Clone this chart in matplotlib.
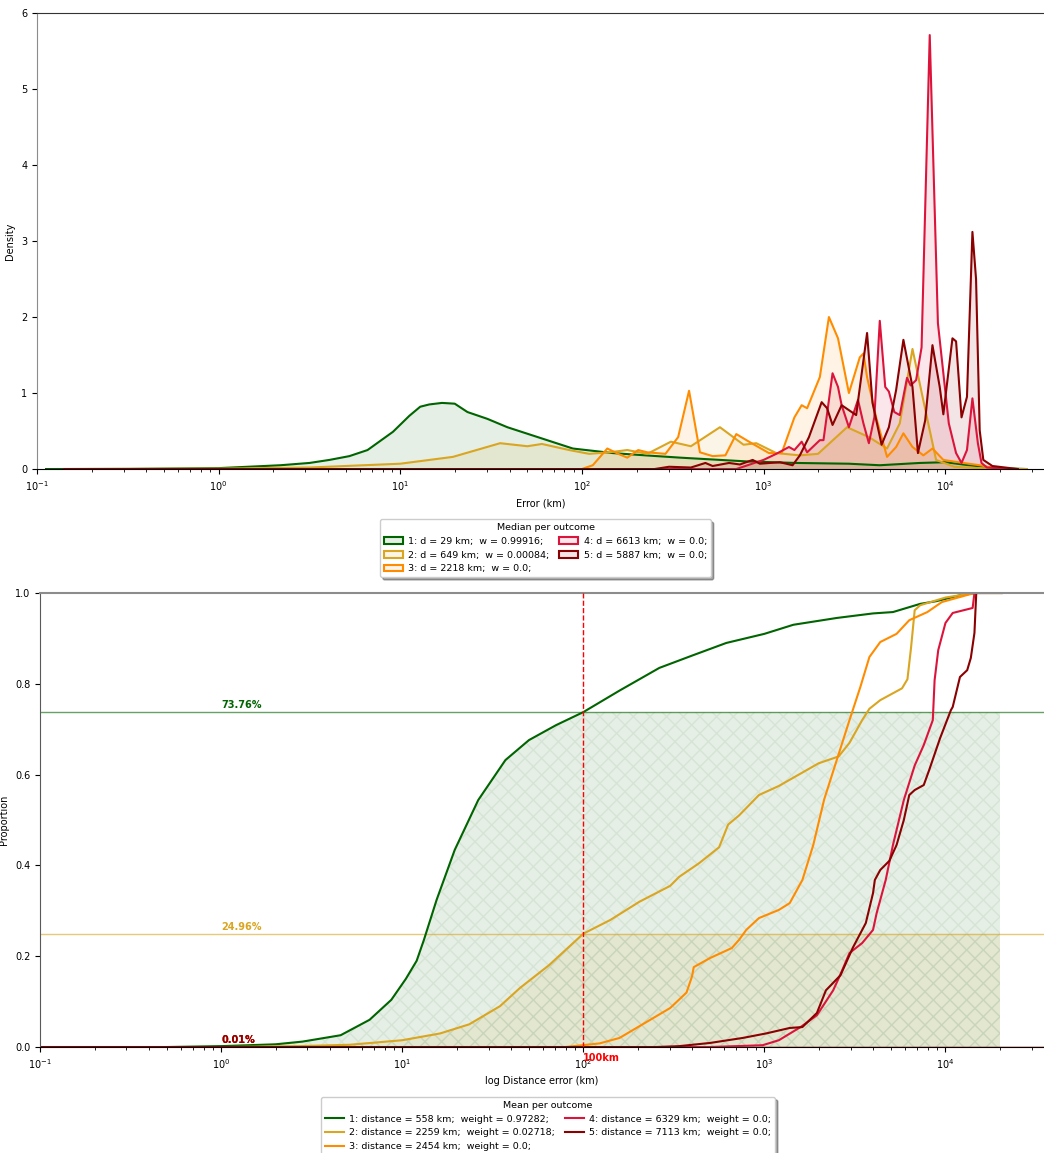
import numpy as np
import matplotlib
matplotlib.use("Agg")
import matplotlib.pyplot as plt
from matplotlib.patches import Patch
from matplotlib.lines import Line2D

# outcomes
labels = ["1", "2", "3", "4", "5"]
colors = ["darkgreen", "goldenrod", "darkorange", "crimson", "darkred"]
median_d = [29, 649, 2218, 6613, 5887]
median_w = ["0.99916", "0.00084", "0.0", "0.0", "0.0"]
mean_d = [558, 2259, 2454, 6329, 7113]
mean_w = ["0.97282", "0.02718", "0.0", "0.0", "0.0"]
pct_100km = [73.76, 24.96, 0.01, 0.01, 0.01]

# density curves (x as log10 km)
dens_logx = [
    [-0.95, -0.5, 0.0, 0.34, 0.5, 0.61, 0.72, 0.82, 0.96, 1.05, 1.11, 1.16, 1.23, 1.3, 1.37, 1.48,
     1.59, 1.68, 1.77, 1.86, 1.95, 2.17, 2.35, 2.54, 2.91, 3.18, 3.47, 3.64, 3.86, 4.0, 4.13, 4.3, 4.45],
    [-0.85, 0.0, 0.5, 1.0, 1.29, 1.42, 1.55, 1.7, 1.78, 1.93, 2.04, 2.15, 2.25, 2.36, 2.49, 2.6, 2.76,
     2.89, 2.96, 3.07, 3.2, 3.3, 3.46, 3.58, 3.68, 3.75, 3.82, 3.88, 3.95, 4.05, 4.2, 4.45],
    [-0.85, 2.0, 2.06, 2.14, 2.2, 2.25, 2.31, 2.36, 2.46, 2.53, 2.59, 2.65, 2.72, 2.79, 2.85, 2.92,
     3.03, 3.1, 3.17, 3.21, 3.24, 3.31, 3.36, 3.41, 3.47, 3.53, 3.55, 3.57, 3.62, 3.68, 3.73, 3.77,
     3.82, 3.88, 3.93, 3.99, 4.1, 4.19, 4.3],
    [-0.85, 2.85, 3.0, 3.07, 3.14, 3.17, 3.21, 3.24, 3.31, 3.33, 3.38, 3.41, 3.43, 3.47, 3.52, 3.55,
     3.58, 3.61, 3.64, 3.67, 3.69, 3.72, 3.75, 3.79, 3.81, 3.84, 3.87, 3.915, 3.96, 3.99, 4.02, 4.06,
     4.09, 4.12, 4.15, 4.18, 4.2, 4.23, 4.35],
    [-0.85, 2.4, 2.48, 2.6, 2.68, 2.72, 2.81, 2.87, 2.94, 2.98, 3.09, 3.16, 3.2, 3.25, 3.32, 3.35,
     3.38, 3.43, 3.51, 3.57, 3.6, 3.65, 3.69, 3.73, 3.77, 3.82, 3.85, 3.89, 3.93, 3.97, 3.99, 4.04,
     4.06, 4.09, 4.12, 4.15, 4.17, 4.19, 4.21, 4.26, 4.4],
]
dens_y = [
    [0.0, 0.002, 0.012, 0.05, 0.08, 0.12, 0.17, 0.25, 0.49, 0.7, 0.82, 0.85, 0.87, 0.86, 0.75, 0.66,
     0.55, 0.48, 0.41, 0.34, 0.27, 0.21, 0.18, 0.15, 0.1, 0.08, 0.07, 0.05, 0.08, 0.09, 0.05, 0.01, 0.0],
    [0.0, 0.005, 0.02, 0.07, 0.16, 0.25, 0.34, 0.30, 0.33, 0.25, 0.2, 0.22, 0.25, 0.2, 0.36, 0.30, 0.55,
     0.32, 0.34, 0.21, 0.18, 0.2, 0.55, 0.42, 0.27, 0.6, 1.58, 0.9, 0.12, 0.03, 0.01, 0.0],
    [0.0, 0.0, 0.05, 0.27, 0.2, 0.15, 0.25, 0.22, 0.2, 0.42, 1.03, 0.22, 0.17, 0.18, 0.46, 0.36,
     0.21, 0.21, 0.68, 0.84, 0.80, 1.21, 2.0, 1.72, 1.0, 1.47, 1.52, 1.21, 0.68, 0.16, 0.29, 0.47,
     0.29, 0.18, 0.27, 0.12, 0.08, 0.05, 0.0],
    [0.0, 0.0, 0.12, 0.2, 0.29, 0.25, 0.36, 0.22, 0.38, 0.38, 1.26, 1.08, 0.84, 0.55, 0.91, 0.6,
     0.34, 0.68, 1.95, 1.08, 1.02, 0.75, 0.71, 1.2, 1.1, 1.17, 1.6, 5.71, 1.92, 1.26, 0.6, 0.21,
     0.08, 0.25, 0.93, 0.34, 0.08, 0.02, 0.0],
    [0.0, 0.0, 0.03, 0.02, 0.08, 0.04, 0.08, 0.06, 0.12, 0.07, 0.09, 0.05, 0.18, 0.42, 0.88, 0.8,
     0.58, 0.84, 0.71, 1.79, 0.87, 0.32, 0.55, 1.04, 1.7, 1.08, 0.21, 0.64, 1.63, 1.08, 0.72, 1.72,
     1.68, 0.68, 0.95, 3.12, 2.5, 0.51, 0.12, 0.04, 0.0],
]

# cumulative proportion curves (x as log10 km)
ecdf_logx = [
    [-1.0, -0.3, 0.0, 0.3, 0.45, 0.66, 0.82, 0.94, 1.02, 1.08, 1.12, 1.19, 1.29, 1.42, 1.57, 1.7,
     1.85, 2.0, 2.2, 2.42, 2.6, 2.79, 3.0, 3.16, 3.4, 3.6, 3.71, 3.86, 3.95, 4.08, 4.17, 4.31],
    [-1.0, 0.0, 0.43, 0.71, 1.0, 1.21, 1.37, 1.54, 1.65, 1.81, 2.0, 2.15, 2.31, 2.48, 2.53, 2.64,
     2.75, 2.8, 2.86, 2.97, 3.08, 3.19, 3.3, 3.41, 3.47, 3.54, 3.58, 3.64, 3.76, 3.79, 3.81, 3.83,
     3.86, 4.0, 4.16, 4.31],
    [-1.0, 1.9, 2.09, 2.2, 2.37, 2.48, 2.57, 2.6, 2.61, 2.7, 2.82, 2.86, 2.9, 2.97, 3.08, 3.14,
     3.21, 3.27, 3.33, 3.39, 3.47, 3.53, 3.58, 3.64, 3.73, 3.8, 3.9, 3.98, 4.16, 4.31],
    [-1.0, 2.7, 2.99, 3.08, 3.2, 3.29, 3.38, 3.42, 3.47, 3.54, 3.6, 3.62, 3.67, 3.71, 3.77, 3.83,
     3.88, 3.93, 3.94, 3.96, 4.0, 4.04, 4.15, 4.16, 4.31],
    [-1.0, 2.4, 2.53, 2.7, 2.88, 3.01, 3.14, 3.21, 3.29, 3.34, 3.42, 3.49, 3.56, 3.6, 3.61, 3.64,
     3.69, 3.73, 3.77, 3.8, 3.83, 3.88, 3.91, 3.97, 4.03, 4.04, 4.08, 4.12, 4.14, 4.16, 4.17, 4.31],
]
ecdf_p = [
    [0.0, 0.0, 0.002, 0.006, 0.012, 0.026, 0.06, 0.104, 0.15, 0.19, 0.236, 0.324, 0.434, 0.544,
     0.632, 0.676, 0.709, 0.7376, 0.785, 0.835, 0.862, 0.89, 0.91, 0.93, 0.945, 0.955, 0.958, 0.976,
     0.982, 0.995, 1.0, 1.0],
    [0.0, 0.0, 0.002, 0.005, 0.015, 0.03, 0.05, 0.09, 0.13, 0.18, 0.2496, 0.28, 0.32, 0.355, 0.375,
     0.405, 0.44, 0.49, 0.51, 0.555, 0.575, 0.6, 0.625, 0.64, 0.67, 0.72, 0.745, 0.764, 0.79, 0.81,
     0.88, 0.962, 0.973, 0.99, 1.0, 1.0],
    [0.0, 0.0, 0.008, 0.02, 0.06, 0.086, 0.12, 0.155, 0.176, 0.196, 0.218, 0.236, 0.258, 0.284,
     0.302, 0.317, 0.368, 0.445, 0.545, 0.62, 0.72, 0.793, 0.859, 0.892, 0.91, 0.94, 0.958, 0.98,
     1.0, 1.0],
    [0.0, 0.0, 0.004, 0.015, 0.044, 0.07, 0.125, 0.16, 0.207, 0.229, 0.258, 0.295, 0.368, 0.445,
     0.544, 0.62, 0.665, 0.72, 0.808, 0.874, 0.934, 0.956, 0.967, 1.0, 1.0],
    [0.0, 0.0, 0.002, 0.009, 0.02, 0.03, 0.042, 0.044, 0.075, 0.125, 0.158, 0.22, 0.273, 0.339,
     0.368, 0.39, 0.41, 0.445, 0.5, 0.555, 0.566, 0.577, 0.61, 0.68, 0.742, 0.749, 0.815, 0.83,
     0.857, 0.912, 1.0, 1.0],
]
fill_end_km = 20000
threshold_km = 100

plt.rcParams['font.size'] = 7

fig = plt.figure(figsize=(10.44, 11.53), dpi=100)

# 1. Density per outcome
ax1 = fig.add_axes([0.0354, 0.5932, 0.9646, 0.3955])
for i in range(5):
    x = 10 ** np.array(dens_logx[i])
    y = np.array(dens_y[i])
    ax1.fill_between(x, 0, y, color=colors[i], alpha=0.1, linewidth=0)
    ax1.plot(x, y, color=colors[i], linewidth=1.5)
ax1.set_xscale('log')
ax1.set_xlim(0.1, 35000)
ax1.set_ylim(0, 6)
ax1.set_xlabel("Error (km)")
ax1.set_ylabel("Density")
ax1.spines['right'].set_visible(False)
ax1.spines['left'].set_color('0.55')
ax1.spines['top'].set_color('0.2')

handles1 = [Patch(facecolor=matplotlib.colors.to_rgba(c, 0.1), edgecolor=c, linewidth=1.5)
            for c in colors]
labels1 = [f"{labels[i]}: d = {median_d[i]} km;  w = {median_w[i]};" for i in range(5)]
ax1.legend(handles1, labels1, title="Median per outcome", ncol=2, loc='upper center',
           bbox_to_anchor=(0.505, -0.1), shadow=True, fontsize=6.8, title_fontsize=6.8,
           columnspacing=1.0, handletextpad=0.6, borderpad=0.4, labelspacing=0.5)

# 2. Cumulative proportion per outcome
ax2 = fig.add_axes([0.0383, 0.0919, 0.9617, 0.3938])
for i in range(5):
    x = 10 ** np.array(ecdf_logx[i])
    p = np.array(ecdf_p[i])
    level = pct_100km[i] / 100
    ax2.axhline(level, color=colors[i], alpha=0.6, linewidth=1)
    keep = x <= fill_end_km
    ax2.fill_between(np.append(x[keep], fill_end_km), 0,
                     np.minimum(np.append(p[keep], 1.0), level),
                     facecolor=matplotlib.colors.to_rgba(colors[i], 0.1),
                     edgecolor=(0.6, 0.72, 0.6, 0.2), hatch='xx', linewidth=0)
    ax2.text(1, level + 0.004, f"{pct_100km[i]:.2f}%", color=colors[i], fontweight='bold',
             ha='left', va='bottom', fontsize=7)
for i in range(5):
    x = 10 ** np.array(ecdf_logx[i])
    ax2.plot(x, ecdf_p[i], color=colors[i], linewidth=1.5)
ax2.axvline(threshold_km, color='red', linestyle='--', linewidth=1.0, zorder=5)
ax2.text(threshold_km, -0.024, f"{threshold_km}km", color='red', fontweight='bold',
         ha='left', va='center', fontsize=7)
ax2.set_xscale('log')
ax2.set_xlim(0.1, 35000)
ax2.set_ylim(0, 1)
ax2.set_xlabel("log Distance error (km)")
ax2.set_ylabel("Proportion")
ax2.spines['right'].set_visible(False)
ax2.spines['left'].set_color('0.35')
ax2.spines['top'].set_color('0.55')
ax2.spines['top'].set_linewidth(1.5)

handles2 = [Line2D([0], [0], color=c, linewidth=1.5) for c in colors]
labels2 = [f"{labels[i]}: distance = {mean_d[i]} km;  weight = {mean_w[i]};" for i in range(5)]
ax2.legend(handles2, labels2, title="Mean per outcome", ncol=2, loc='upper center',
           bbox_to_anchor=(0.506, -0.1), shadow=True, fontsize=6.8, title_fontsize=6.8,
           columnspacing=1.0, handletextpad=0.6, borderpad=0.4, labelspacing=0.5)

fig.savefig("out.png", dpi=100)
